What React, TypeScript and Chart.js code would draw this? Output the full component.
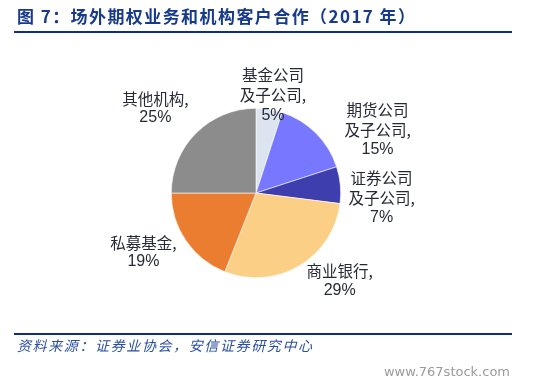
import React, { useEffect, useRef } from "react";
import { Chart, registerables } from "chart.js";

Chart.register(...registerables);

const categories = ["基金公司及子公司", "期货公司及子公司", "证券公司及子公司", "商业银行", "私募基金", "其他机构"];
const labelLines = [
  ["基金公司", "及子公司,"],
  ["期货公司", "及子公司,"],
  ["证券公司", "及子公司,"],
  ["商业银行,"],
  ["私募基金,"],
  ["其他机构,"],
];
const shares = [5, 15, 7, 29, 19, 25];
const colors = ["#DCE4F0", "#7777FF", "#3E3EAE", "#FBCF85", "#EA7D30", "#8C8C8C"];

const title = "图 7：场外期权业务和机构客户合作（2017 年）";
const source = "资料来源：证券业协会，安信证券研究中心";
const watermark = "www.767stock.com";

// label group centre offsets relative to pie centre, in px at radius 85
const labelOffsets = [
  [17, -98],
  [122, -63.5],
  [126, 5],
  [84, 88],
  [-113, 59.5],
  [-101, -85],
];

const W = 544;
const H = 386;

function fitText(ctx: CanvasRenderingContext2D, text: string, x: number, y: number, width: number) {
  const chars = Array.from(text);
  let natural = 0;
  for (const c of chars) natural += ctx.measureText(c).width;
  const gap = chars.length > 1 ? (width - natural) / (chars.length - 1) : 0;
  let cx = x;
  for (const c of chars) {
    ctx.fillText(c, cx, y);
    cx += ctx.measureText(c).width + gap;
  }
}

const decorPlugin = {
  id: "decor",
  afterDraw(chart: any) {
    const ctx: CanvasRenderingContext2D = chart.ctx;
    ctx.save();
    // title
    ctx.fillStyle = "#173A8C";
    ctx.font = "bold 17px 'Noto Sans CJK SC', sans-serif";
    ctx.textBaseline = "middle";
    ctx.textAlign = "left";
    fitText(ctx, title, 17, 17, 398);
    // rules
    ctx.strokeStyle = "#0B2E8C";
    ctx.lineWidth = 2;
    ctx.beginPath();
    ctx.moveTo(14, 32);
    ctx.lineTo(512, 32);
    ctx.moveTo(14, 334);
    ctx.lineTo(512, 334);
    ctx.stroke();
    // source
    ctx.fillStyle = "#2C4FA0";
    ctx.font = "italic 14px 'Noto Sans CJK SC', sans-serif";
    fitText(ctx, source, 17, 346, 295);
    // watermark
    ctx.fillStyle = "#9A9A9A";
    ctx.font = "13px 'DejaVu Sans', sans-serif";
    ctx.textAlign = "right";
    ctx.fillText(watermark, 510, 373);

    // pie labels
    const meta = chart.getDatasetMeta(0);
    const values = chart.data.datasets[0].data as number[];
    ctx.fillStyle = "#262A36";
    ctx.textAlign = "center";
    meta.data.forEach((arc: any, i: number) => {
      const scale = arc.outerRadius / 85;
      const cx = arc.x + labelOffsets[i][0] * scale;
      const cy = arc.y + labelOffsets[i][1] * scale;
      const lines = [...labelLines[i], values[i] + "%"];
      const lh = lines.length === 3 ? 20 : 19;
      const top = cy - ((lines.length - 1) * lh) / 2;
      lines.forEach((ln, k) => {
        const isNum = k === lines.length - 1;
        ctx.font = isNum ? "16px 'Liberation Sans', sans-serif" : "15.5px 'Noto Sans CJK SC', sans-serif";
        ctx.fillText(ln, cx, top + k * lh);
      });
    });
    ctx.restore();
  },
};

export default function App() {
  const ref = useRef<HTMLCanvasElement | null>(null);
  useEffect(() => {
    if (!ref.current) return;
    const chart = new Chart(ref.current, {
      type: "pie",
      data: {
        labels: categories,
        datasets: [
          {
            data: shares,
            backgroundColor: colors,
            borderColor: "#FFFFFF",
            borderWidth: 0.6,
          },
        ],
      },
      options: {
        animation: false,
        responsive: false,
        maintainAspectRatio: false,
        events: [],
        layout: { padding: { left: 171, right: 203, top: 108, bottom: 108 } },
        plugins: {
          legend: { display: false },
          tooltip: { enabled: false },
          title: { display: false },
        },
      },
      plugins: [decorPlugin],
    });
    return () => chart.destroy();
  }, []);
  return (
    <div style={{ position: "absolute", left: 0, top: 0, width: W, height: H, background: "#fff" }}>
      <canvas ref={ref} width={W} height={H} style={{ width: W, height: H, display: "block" }} />
    </div>
  );
}
